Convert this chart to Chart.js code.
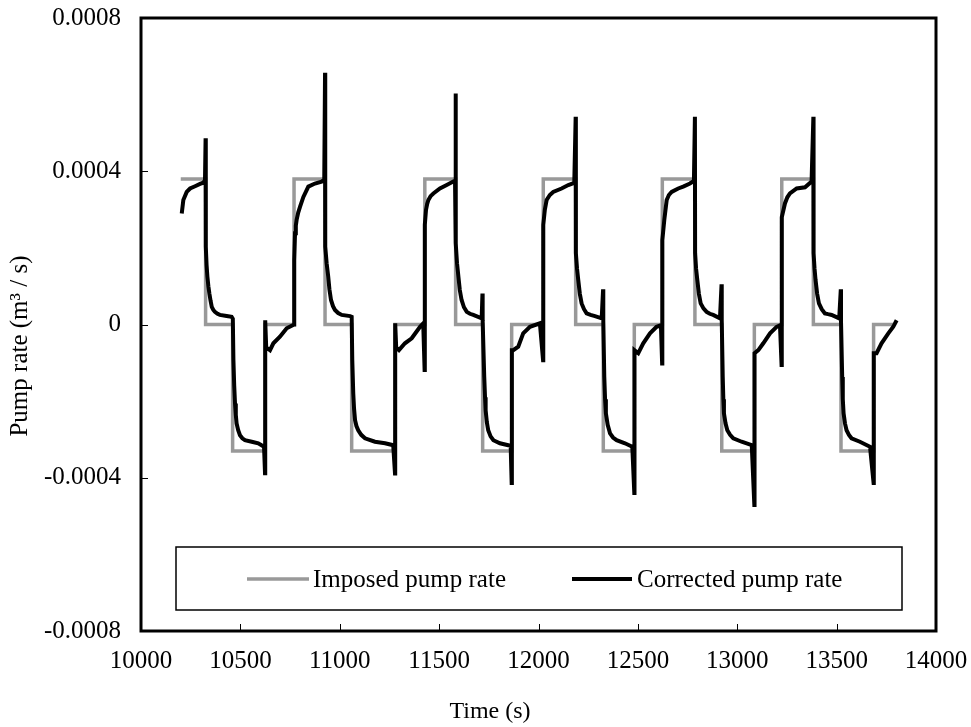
<!DOCTYPE html>
<html>
<head>
<meta charset="utf-8">
<script src="https://cdn.jsdelivr.net/npm/chart.js@4.4.0/dist/chart.umd.min.js"></script>
<style>
  html, body { margin: 0; padding: 0; background: #fff; }
  canvas { display: block; }
</style>
</head>
<body>
<canvas id="chart" width="971" height="727"></canvas>
<script>
// imposed square wave, corners listed twice for the vertical steps
const imposedTime = [
  10200, 10325, 10325, 10461, 10461, 10624, 10624, 10770, 10770, 10926,
  10926, 11060, 11060, 11278, 11278, 11428, 11428, 11583, 11583, 11719,
  11719, 11865, 11865, 12024, 12024, 12187, 12187, 12326, 12326, 12482,
  12482, 12623, 12623, 12787, 12787, 12922, 12922, 13086, 13086, 13224,
  13224, 13383, 13383, 13522, 13522, 13686, 13686, 13795
]
const imposedRate = [
  3.8e-4, 3.8e-4, 0, 0, -3.3e-4, -3.3e-4, 0, 0, 3.8e-4, 3.8e-4,
  0, 0, -3.3e-4, -3.3e-4, 0, 0, 3.8e-4, 3.8e-4, 0, 0,
  -3.3e-4, -3.3e-4, 0, 0, 3.8e-4, 3.8e-4, 0, 0, -3.3e-4, -3.3e-4,
  0, 0, 3.8e-4, 3.8e-4, 0, 0, -3.3e-4, -3.3e-4, 0, 0,
  3.8e-4, 3.8e-4, 0, 0, -3.3e-4, -3.3e-4, 0, 0
]

const correctedTime = [
  10205, 10213, 10230, 10247, 10272, 10297, 10313, 10322,
  10325, 10326, 10330, 10334, 10339, 10344, 10350, 10356, 10364, 10372, 10385, 10397, 10431, 10456,
  10462, 10465, 10469, 10473, 10477, 10481, 10489, 10498, 10510, 10523, 10557, 10590, 10619,
  10624, 10625, 10630, 10649, 10666, 10699, 10733, 10763,
  10770, 10771, 10775, 10779, 10783, 10791, 10800, 10817, 10842, 10875, 10909, 10922,
  10926, 10927, 10934, 10942, 10948, 10956, 10966, 10976, 10992, 11010, 11052,
  11060, 11063, 11068, 11072, 11077, 11084, 11093, 11108, 11127, 11177, 11228, 11269,
  11278, 11279, 11284, 11298, 11328, 11362, 11404, 11420,
  11427, 11428, 11434, 11440, 11446, 11457, 11471, 11504, 11538, 11571, 11580,
  11583, 11584, 11590, 11597, 11604, 11613, 11625, 11639, 11655, 11672, 11714,
  11718, 11719, 11727, 11731, 11734, 11740, 11747, 11759, 11773, 11806, 11848, 11860,
  11865, 11866, 11873, 11898, 11923, 11957, 12007,
  12023, 12024, 12032, 12041, 12057, 12074, 12116, 12150, 12180,
  12187, 12188, 12194, 12200, 12208, 12217, 12229, 12242, 12262, 12284, 12318,
  12325, 12326, 12331, 12335, 12339, 12348, 12360, 12375, 12393, 12435, 12472,
  12482, 12483, 12502, 12527, 12561, 12594, 12616,
  12622, 12623, 12633, 12645, 12656, 12670, 12703, 12728, 12762, 12782,
  12787, 12788, 12793, 12799, 12807, 12816, 12830, 12846, 12862, 12879, 12913,
  12921, 12922, 12927, 12930, 12933, 12941, 12950, 12964, 12980, 13022, 13073,
  13086, 13087, 13106, 13131, 13165, 13198, 13215,
  13223, 13224, 13240, 13252, 13265, 13299, 13341, 13374,
  13383, 13384, 13389, 13394, 13402, 13411, 13425, 13441, 13457, 13475, 13513,
  13521, 13522, 13528, 13531, 13535, 13542, 13550, 13562, 13575, 13617, 13668,
  13686, 13687, 13701, 13726, 13760, 13785, 13802
]
const correctedRate = [
  2.90e-4, 3.25e-4, 3.46e-4, 3.55e-4, 3.61e-4, 3.67e-4, 3.70e-4, 3.77e-4,
  4.86e-4, 2.03e-4, 1.55e-4, 1.25e-4, 1.00e-4, 0.81e-4, 0.62e-4, 0.46e-4, 0.38e-4, 0.33e-4, 0.28e-4, 0.25e-4, 0.22e-4, 0.20e-4,
  0.15e-4, -0.93e-4, -1.60e-4, -2.06e-4, -2.36e-4, -2.58e-4, -2.76e-4, -2.89e-4, -2.97e-4, -3.02e-4, -3.06e-4, -3.10e-4, -3.19e-4,
  -3.88e-4, 0.11e-4, -0.60e-4, -0.67e-4, -0.49e-4, -0.32e-4, -0.10e-4, -0.02e-4,
  0, 1.68e-4, 2.38e-4, 2.58e-4, 2.73e-4, 2.92e-4, 3.07e-4, 3.33e-4, 3.60e-4, 3.68e-4, 3.73e-4, 3.77e-4,
  6.57e-4, 2.03e-4, 1.60e-4, 1.25e-4, 0.92e-4, 0.64e-4, 0.48e-4, 0.38e-4, 0.30e-4, 0.25e-4, 0.22e-4,
  0.20e-4, -0.93e-4, -1.80e-4, -2.20e-4, -2.50e-4, -2.65e-4, -2.76e-4, -2.88e-4, -2.97e-4, -3.06e-4, -3.10e-4, -3.15e-4,
  -3.89e-4, 0.03e-4, -0.60e-4, -0.67e-4, -0.49e-4, -0.36e-4, -0.06e-4, 0.03e-4,
  -1.19e-4, 2.60e-4, 2.99e-4, 3.15e-4, 3.25e-4, 3.35e-4, 3.42e-4, 3.55e-4, 3.64e-4, 3.73e-4, 3.75e-4,
  6.03e-4, 2.12e-4, 1.60e-4, 1.25e-4, 0.90e-4, 0.64e-4, 0.45e-4, 0.33e-4, 0.28e-4, 0.25e-4, 0.16e-4,
  0.81e-4, 0.10e-4, -1.37e-4, -1.90e-4, -2.24e-4, -2.55e-4, -2.76e-4, -2.92e-4, -3.02e-4, -3.10e-4, -3.15e-4, -3.17e-4,
  -4.14e-4, -0.67e-4, -0.67e-4, -0.58e-4, -0.23e-4, -0.06e-4, 0.03e-4,
  -0.93e-4, 2.60e-4, 3.00e-4, 3.25e-4, 3.38e-4, 3.46e-4, 3.55e-4, 3.64e-4, 3.70e-4,
  5.42e-4, 1.86e-4, 1.45e-4, 1.16e-4, 0.80e-4, 0.55e-4, 0.40e-4, 0.29e-4, 0.25e-4, 0.22e-4, 0.16e-4,
  0.92e-4, 0.10e-4, -1.37e-4, -1.95e-4, -2.32e-4, -2.62e-4, -2.84e-4, -2.95e-4, -3.02e-4, -3.10e-4, -3.19e-4,
  -4.40e-4, -0.67e-4, -0.75e-4, -0.49e-4, -0.23e-4, -0.06e-4, -0.02e-4,
  -1.02e-4, 2.20e-4, 2.73e-4, 3.25e-4, 3.38e-4, 3.46e-4, 3.55e-4, 3.60e-4, 3.68e-4, 3.75e-4,
  5.42e-4, 1.86e-4, 1.45e-4, 1.16e-4, 0.80e-4, 0.55e-4, 0.42e-4, 0.33e-4, 0.28e-4, 0.25e-4, 0.16e-4,
  1.05e-4, 0.10e-4, -1.37e-4, -1.95e-4, -2.32e-4, -2.58e-4, -2.76e-4, -2.88e-4, -2.97e-4, -3.06e-4, -3.15e-4,
  -4.71e-4, -0.75e-4, -0.67e-4, -0.49e-4, -0.23e-4, -0.06e-4, -0.02e-4,
  -1.06e-4, 2.80e-4, 3.16e-4, 3.32e-4, 3.42e-4, 3.55e-4, 3.58e-4, 3.73e-4,
  5.42e-4, 1.86e-4, 1.45e-4, 1.16e-4, 0.80e-4, 0.55e-4, 0.40e-4, 0.29e-4, 0.27e-4, 0.25e-4, 0.16e-4,
  0.92e-4, 0.10e-4, -1.37e-4, -1.95e-4, -2.32e-4, -2.58e-4, -2.76e-4, -2.88e-4, -2.97e-4, -3.06e-4, -3.19e-4,
  -4.14e-4, -0.75e-4, -0.75e-4, -0.49e-4, -0.23e-4, -0.06e-4, 0.11e-4
]

const xTickValues = [10000, 10500, 11000, 11500, 12000, 12500, 13000, 13500, 14000]
const yTickValues = [-0.0008, -0.0004, 0, 0.0004, 0.0008]

const FONT = 'Liberation Serif'

const toPoints = (xs, ys) => xs.map((x, i) => ({ x: x, y: ys[i] }))

// frame, inward ticks, boxed legend and axis titles
const framePlugin = {
  id: 'frame',
  afterDraw(chart) {
    const { ctx, chartArea: a, scales: { x, y } } = chart
    ctx.save()
    ctx.strokeStyle = '#000'
    ctx.lineWidth = 1
    ctx.beginPath()
    x.ticks.forEach(t => {
      const px = Math.round(x.getPixelForValue(t.value)) + 0.5
      ctx.moveTo(px, a.bottom)
      ctx.lineTo(px, a.bottom - 7)
    })
    y.ticks.forEach(t => {
      const py = Math.round(y.getPixelForValue(t.value)) + 0.5
      ctx.moveTo(a.left, py)
      ctx.lineTo(a.left + 7, py)
    })
    ctx.stroke()

    ctx.lineWidth = 3
    ctx.strokeRect(a.left, a.top, a.right - a.left, a.bottom - a.top)

    // legend box
    ctx.lineWidth = 1.5
    ctx.fillStyle = '#fff'
    ctx.fillRect(176, 547, 726, 63)
    ctx.strokeRect(176, 547, 726, 63)
    ctx.font = '25px "' + FONT + '"'
    ctx.textBaseline = 'middle'
    ctx.textAlign = 'left'
    ctx.fillStyle = '#000'
    const items = [
      { x0: 247, x1: 309, tx: 313 },
      { x0: 572, x1: 632, tx: 637 }
    ]
    chart.data.datasets.forEach((ds, i) => {
      const it = items[i]
      ctx.strokeStyle = ds.borderColor
      ctx.lineWidth = ds.borderWidth
      ctx.beginPath()
      ctx.moveTo(it.x0, 579)
      ctx.lineTo(it.x1, 579)
      ctx.stroke()
      ctx.fillText(ds.label, it.tx, 580)
    })

    ctx.textAlign = 'center'
    ctx.font = '24px "' + FONT + '"'
    ctx.fillText('Time (s)', 490, 712)

    ctx.translate(20, 346)
    ctx.rotate(-Math.PI / 2)
    ctx.font = '25px "' + FONT + '"'
    ctx.fillText('Pump rate (m³ / s)', 0, 0)
    ctx.restore()
  }
}

new Chart(document.getElementById('chart'), {
  type: 'line',
  data: {
    datasets: [
      {
        label: 'Imposed pump rate',
        data: toPoints(imposedTime, imposedRate),
        borderColor: '#999999',
        borderWidth: 3.5,
        pointRadius: 0,
        tension: 0,
        order: 1
      },
      {
        label: 'Corrected pump rate',
        data: toPoints(correctedTime, correctedRate),
        borderColor: '#000000',
        borderWidth: 4,
        pointRadius: 0,
        tension: 0,
        order: 0
      }
    ]
  },
  options: {
    responsive: false,
    animation: false,
    layout: { padding: { top: 18, right: 35, left: 0, bottom: 0 } },
    plugins: {
      legend: { display: false },
      tooltip: { enabled: false }
    },
    scales: {
      x: {
        type: 'linear',
        min: 10000,
        max: 14000,
        afterBuildTicks: scale => { scale.ticks = xTickValues.map(v => ({ value: v })) },
        afterFit: scale => {
          scale.height = 96
          scale.paddingLeft = 0
          scale.paddingRight = 0
        },
        grid: { display: false, drawTicks: false, tickLength: 0 },
        border: { display: false },
        ticks: {
          color: '#000',
          padding: 15,
          maxRotation: 0,
          font: { family: FONT, size: 25 },
          callback: v => String(v)
        }
      },
      y: {
        type: 'linear',
        min: -0.0008,
        max: 0.0008,
        afterBuildTicks: scale => { scale.ticks = yTickValues.map(v => ({ value: v })) },
        afterFit: scale => {
          scale.width = 141
          scale.paddingTop = 0
          scale.paddingBottom = 0
        },
        grid: { display: false, drawTicks: false, tickLength: 0 },
        border: { display: false },
        ticks: {
          color: '#000',
          padding: 20,
          font: { family: FONT, size: 25 },
          callback: v => Math.abs(v) < 1e-10 ? '0' : v.toFixed(4)
        }
      }
    }
  },
  plugins: [framePlugin]
})
</script>
</body>
</html>
